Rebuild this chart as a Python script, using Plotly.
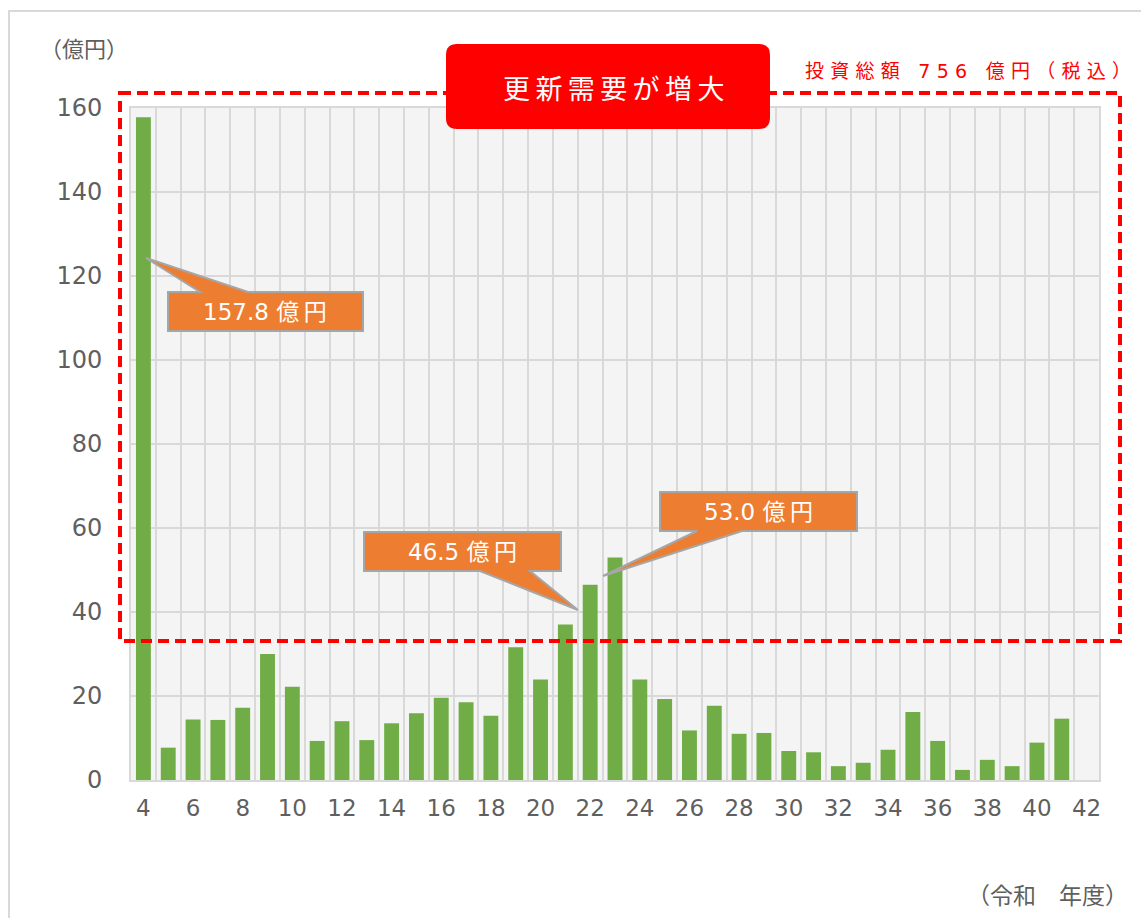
import plotly.graph_objects as go

# ---------------- data ----------------
years = list(range(4, 43))  # 令和 4 .. 42 年度
values = [157.8, 7.7, 14.4, 14.3, 17.2, 30.0, 22.2, 9.3, 14.0, 9.5,
          13.5, 15.9, 19.6, 18.5, 15.3, 31.6, 23.9, 37.0, 46.5, 53.0,
          23.9, 19.3, 11.8, 17.7, 11.0, 11.2, 6.9, 6.6, 3.3, 4.1,
          7.2, 16.2, 9.3, 2.4, 4.8, 3.3, 8.9, 14.6, None]
x_tick_vals = list(range(4, 43, 2))
y_tick_vals = list(range(0, 161, 20))
callout_years = [4, 22, 23]
y_unit_label = "（億円）"
x_unit_label = "（令和　年度）"
title_text = "更新需要が増大"
total_text = "投資総額 756 億円（税込）"

# ---------------- layout geometry (pixels) ----------------
W, H = 1141, 918
PL, PR, PT, PB = 131, 1099, 108, 780
FONT = "DejaVu Sans, Noto Sans CJK JP"
CJK = "Noto Sans CJK JP"
GRAY = "#5f5f5f"


def fx(x):
    return (x - PL) / (PR - PL)


def fy(y):
    return (PB - y) / (PB - PT)


def poly(points):
    return "M " + " L ".join(f"{fx(x):.5f},{fy(y):.5f}" for x, y in points) + " Z"


def rounded_rect(x0, y0, x1, y1, r):
    s = f"M {fx(x0 + r):.5f},{fy(y0):.5f}"
    s += f" L {fx(x1 - r):.5f},{fy(y0):.5f}"
    s += f" Q {fx(x1):.5f},{fy(y0):.5f} {fx(x1):.5f},{fy(y0 + r):.5f}"
    s += f" L {fx(x1):.5f},{fy(y1 - r):.5f}"
    s += f" Q {fx(x1):.5f},{fy(y1):.5f} {fx(x1 - r):.5f},{fy(y1):.5f}"
    s += f" L {fx(x0 + r):.5f},{fy(y1):.5f}"
    s += f" Q {fx(x0):.5f},{fy(y1):.5f} {fx(x0):.5f},{fy(y1 - r):.5f}"
    s += f" L {fx(x0):.5f},{fy(y0 + r):.5f}"
    s += f" Q {fx(x0):.5f},{fy(y0):.5f} {fx(x0 + r):.5f},{fy(y0):.5f} Z"
    return s


def spaced(t, sep="\u2009"):
    return sep.join(list(t))


fig = go.Figure()
fig.add_trace(go.Bar(x=years, y=values, marker=dict(color="#70ad47", line=dict(width=0)),
                     hoverinfo="x+y"))

shapes = []
annotations = []

# outer chart border (left + top visible)
shapes.append(dict(type="rect", xref="paper", yref="paper",
                   x0=fx(9), x1=fx(1160), y0=fy(11), y1=fy(940),
                   line=dict(color="#d9d9d9", width=2), layer="below"))

# red dashed frame
shapes.append(dict(type="rect", xref="paper", yref="paper",
                   x0=fx(120), x1=fx(1120), y0=fy(93), y1=fy(641),
                   line=dict(color="#ff0000", width=4, dash="11px,6px"), layer="above"))

# title box
shapes.append(dict(type="path", xref="paper", yref="paper",
                   path=rounded_rect(446, 44, 770, 129, 11),
                   fillcolor="#ff0000", line=dict(width=0), layer="above"))
annotations.append(dict(text=spaced(title_text), x=fx(613), y=fy(87), xref="paper", yref="paper",
                        showarrow=False, xanchor="center", yanchor="middle",
                        font=dict(family=CJK, size=27, color="white")))

# total text
annotations.append(dict(text=spaced(total_text, "\u2004"), x=fx(1133), y=fy(71),
                        xref="paper", yref="paper",
                        showarrow=False, xanchor="right", yanchor="middle",
                        font=dict(family=FONT, size=19, color="#ff0000")))

# callouts: polygon with pointer (pixel coordinates)
callout_polys = [
    [(168, 292), (200, 292), (146, 258), (248, 292), (363, 292), (363, 331), (168, 331)],
    [(364, 532), (561, 532), (561, 571), (530, 571), (578, 610), (480, 571), (364, 571)],
    [(660, 492), (857, 492), (857, 531), (742, 531), (603, 576), (697, 531), (660, 531)],
]
callout_centers = [(265, 312), (462, 552), (758, 512)]
for yr, pts, (cx, cy) in zip(callout_years, callout_polys, callout_centers):
    v = values[years.index(yr)]
    shapes.append(dict(type="path", xref="paper", yref="paper", path=poly(pts),
                       fillcolor="#ed7d31", line=dict(color="#a6a6a6", width=2), layer="above"))
    annotations.append(dict(text=f"{v:.1f} 億\u2009円", x=fx(cx), y=fy(cy),
                            xref="paper", yref="paper",
                            showarrow=False, xanchor="center", yanchor="middle",
                            font=dict(family=FONT, size=23, color="white")))

# unit labels
annotations.append(dict(text=y_unit_label, x=fx(38), y=fy(47), xref="paper", yref="paper",
                        showarrow=False, xanchor="left", yanchor="middle",
                        font=dict(family=CJK, size=22, color=GRAY)))
annotations.append(dict(text=x_unit_label, x=fx(1130), y=fy(894), xref="paper", yref="paper",
                        showarrow=False, xanchor="right", yanchor="middle",
                        font=dict(family=CJK, size=23, color=GRAY)))

fig.update_layout(
    width=W, height=H,
    margin=dict(l=PL, r=W - PR, t=PT, b=H - PB, pad=0),
    paper_bgcolor="white",
    plot_bgcolor="#f4f4f4",
    bargap=0.4,
    showlegend=False,
    shapes=shapes,
    annotations=annotations,
    font=dict(family=FONT, color=GRAY),
)
fig.update_xaxes(
    type="linear", range=[3.5, 42.5], tickmode="array", tickvals=x_tick_vals,
    ticktext=[str(v) for v in x_tick_vals], showgrid=False, zeroline=False,
    ticks="", ticklabelstandoff=6,
    tickfont=dict(family=FONT, size=23, color=GRAY),
    minor=dict(tick0=3.5, dtick=1, showgrid=True, gridcolor="#d9d9d9", gridwidth=2, ticks=""),
    showline=True, linecolor="#d9d9d9", linewidth=2, mirror=True,
)
fig.update_yaxes(
    range=[0, 160], tickmode="array", tickvals=y_tick_vals, showgrid=True,
    gridcolor="#d9d9d9", gridwidth=2, zeroline=False, ticks="", ticklabelstandoff=22,
    tickfont=dict(family=FONT, size=24, color=GRAY),
    showline=True, linecolor="#d9d9d9", linewidth=2, mirror=True,
)

fig.write_html("out.html", config={"displayModeBar": False},
               post_script="document.body.style.margin='0px';")
